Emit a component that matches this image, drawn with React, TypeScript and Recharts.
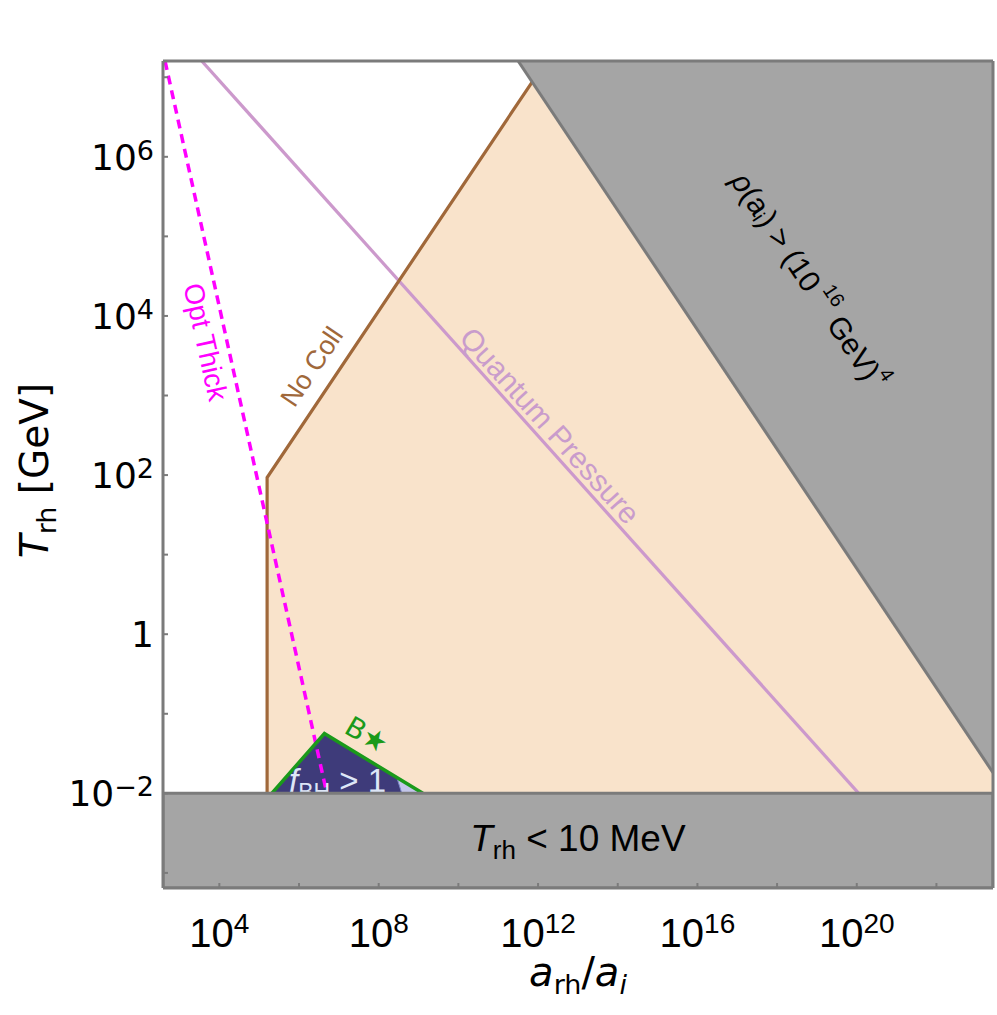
import React from 'react';
import {
	ComposedChart,
	Area,
	Line,
	XAxis,
	YAxis,
	ReferenceArea,
	ReferenceDot,
} from 'recharts';

// axis ranges and ticks (a_rh/a_i and T_rh in GeV)
const X_DOMAIN = [385, 2.63e23];
const Y_DOMAIN = [6.46e-4, 1.6e7];
const X_TICKS = [1e4, 1e6, 1e8, 1e10, 1e12, 1e14, 1e16, 1e18, 1e20, 1e22];
const Y_TICKS = [1e-3, 1e-2, 1e-1, 1, 1e1, 1e2, 1e3, 1e4, 1e5, 1e6, 1e7];
const T_MIN = 1e-2; // T_rh = 10 MeV

// allowed region (No Coll edge + rho(a_i) edge)
const allowedRegion = [
	{ x: 1.58e5, y: [T_MIN, 93] },
	{ x: 7.08e11, y: [T_MIN, 8.7e6] },
	{ x: 2.63e23, y: [T_MIN, 1.82e-2] },
];

// rho(a_i) > (10^16 GeV)^4 excluded wedge
const rhoRegion = [
	{ x: 3.16e11, y: [1.6e7, 1.6e7] },
	{ x: 2.63e23, y: [1.82e-2, 1.6e7] },
];
const rhoEdge = [
	{ x: 3.16e11, y: 1.6e7 },
	{ x: 2.63e23, y: 1.82e-2 },
];

// f_BH > 1 triangle and the B* edge
const fbhRegion = [
	{ x: 2.07e5, y: [T_MIN, T_MIN] },
	{ x: 4.34e6, y: [T_MIN, 5.65e-2] },
	{ x: 1.28e9, y: [T_MIN, T_MIN] },
];
const fbhSliver = [
	{ x: 2.85e8, y: [1.58e-2, 1.58e-2] },
	{ x: 3.8e8, y: [T_MIN, 1.45e-2] },
	{ x: 1.28e9, y: [T_MIN, T_MIN] },
];
const bStarEdge = [
	{ x: 2.07e5, y: T_MIN },
	{ x: 4.34e6, y: 5.65e-2 },
	{ x: 1.28e9, y: T_MIN },
];

const noColl = [
	{ x: 1.58e5, y: T_MIN },
	{ x: 1.58e5, y: 93 },
	{ x: 7.08e11, y: 8.7e6 },
];
const quantumPressure = [
	{ x: 3.61e3, y: 1.6e7 },
	{ x: 1.12e20, y: T_MIN },
];
const optThick = [
	{ x: 433, y: 1.6e7 },
	{ x: 4.98e6, y: T_MIN },
];

const FRAME = '#7b7b7b';
const GRAY = '#a5a5a5';
const TICK_FONT = '"DejaVu Sans", sans-serif';
const TEXT_FONT = '"Liberation Sans", Arial, sans-serif';

const XTick = (props: any) => {
	const { x, y, payload } = props;
	const e = Math.round(Math.log10(payload.value));
	if (e % 4 !== 0) return <g />;
	return (
		<text x={x} y={y + 64} textAnchor="middle" fontFamily={TEXT_FONT} fontSize={40} fill="#000">
			<tspan>10</tspan>
			<tspan dy={-14} fontSize={28}>{e}</tspan>
		</text>
	);
};

const YTick = (props: any) => {
	const { x, y, payload } = props;
	const e = Math.round(Math.log10(payload.value));
	if (e % 2 !== 0) return <g />;
	return (
		<text x={x - 14} y={y + 13} textAnchor="end" fontFamily={TICK_FONT} fontSize={36} fill="#000">
			{e === 0 ? (
				<tspan>1</tspan>
			) : (
				<>
					<tspan>10</tspan>
					<tspan dy={-10} fontSize={27}>{e < 0 ? '\u2212' + -e : String(e)}</tspan>
				</>
			)}
		</text>
	);
};

const XTitle = (props: any) => {
	const { x, y, width } = props.viewBox;
	return (
		<text x={x + width / 2} y={y + 98} textAnchor="middle" fontFamily={TICK_FONT} fontSize={40} fill="#000">
			<tspan fontStyle="italic">a</tspan>
			<tspan fontSize={27} dy={8}>rh</tspan>
			<tspan dy={-8}>/</tspan>
			<tspan fontStyle="italic">a</tspan>
			<tspan fontSize={27} dy={8} fontStyle="italic">i</tspan>
		</text>
	);
};

const YTitle = (props: any) => {
	const { y, height } = props.viewBox;
	const cx = 48;
	const cy = y + height / 2 - 4;
	return (
		<text
			x={cx}
			y={cy}
			transform={`rotate(-90 ${cx} ${cy})`}
			textAnchor="middle"
			fontFamily={TICK_FONT}
			fontSize={39}
			fill="#000"
		>
			<tspan fontStyle="italic">T</tspan>
			<tspan fontSize={27} dy={8}>rh</tspan>
			<tspan dy={-8}> [GeV]</tspan>
		</text>
	);
};

const rotated =
	(content: React.ReactNode, angle: number, color: string, size: number, family = TEXT_FONT) =>
	(p: any) => (
		<text
			x={p.cx}
			y={p.cy}
			transform={`rotate(${angle} ${p.cx} ${p.cy})`}
			textAnchor="middle"
			dominantBaseline="central"
			fill={color}
			fontSize={size}
			fontFamily={family}
		>
			{content}
		</text>
	);

const App = () => {
	return (
		<div style={{ position: 'absolute', left: 0, top: 0, width: 997, height: 1015, background: '#fff' }}>
			<ComposedChart width={997} height={1015} margin={{ top: 60, right: 3, bottom: 0, left: 0 }}>
				<XAxis
					xAxisId={0}
					type="number"
					dataKey="x"
					scale="log"
					domain={X_DOMAIN}
					allowDataOverflow
					ticks={X_TICKS}
					interval={0}
					height={127}
					tickSize={-5}
					tickMargin={0}
					axisLine={{ stroke: FRAME, strokeWidth: 3 }}
					tickLine={{ stroke: FRAME, strokeWidth: 2 }}
					tick={XTick}
					label={{ content: XTitle }}
					zIndex={500}
				/>
				<XAxis
					xAxisId="top"
					orientation="top"
					type="number"
					dataKey="x"
					scale="log"
					domain={X_DOMAIN}
					allowDataOverflow
					ticks={X_TICKS}
					interval={0}
					height={1}
					tickSize={-5}
					axisLine={{ stroke: FRAME, strokeWidth: 3 }}
					tickLine={{ stroke: FRAME, strokeWidth: 2 }}
					tick={false}
					zIndex={500}
				/>
				<YAxis
					yAxisId={0}
					type="number"
					scale="log"
					domain={Y_DOMAIN}
					allowDataOverflow
					ticks={Y_TICKS}
					interval={0}
					width={163}
					tickSize={-5}
					tickMargin={0}
					axisLine={{ stroke: FRAME, strokeWidth: 3 }}
					tickLine={{ stroke: FRAME, strokeWidth: 2 }}
					tick={YTick}
					label={{ content: YTitle }}
					zIndex={500}
				/>
				<YAxis
					yAxisId="right"
					orientation="right"
					type="number"
					scale="log"
					domain={Y_DOMAIN}
					allowDataOverflow
					ticks={Y_TICKS}
					interval={0}
					width={1}
					tickSize={-5}
					axisLine={{ stroke: FRAME, strokeWidth: 3 }}
					tickLine={{ stroke: FRAME, strokeWidth: 2 }}
					tick={false}
					zIndex={500}
				/>

				<Area
					data={allowedRegion}
					dataKey="y"
					type="linear"
					fill="#f9e3cb"
					fillOpacity={1}
					stroke="none"
					isAnimationActive={false}
					zIndex={100}
				/>
				<Area
					data={fbhRegion}
					dataKey="y"
					type="linear"
					fill="#3e3b7a"
					fillOpacity={1}
					stroke="none"
					isAnimationActive={false}
					zIndex={110}
				/>
				<Area
					data={fbhSliver}
					dataKey="y"
					type="linear"
					fill="#c3c6ea"
					fillOpacity={1}
					stroke="#7c8bc9"
					strokeWidth={1}
					isAnimationActive={false}
					zIndex={120}
				/>

				<Line
					data={quantumPressure}
					dataKey="y"
					type="linear"
					stroke="#cc99cc"
					strokeWidth={3.2}
					dot={false}
					activeDot={false}
					isAnimationActive={false}
					zIndex={400}
				/>
				<Line
					data={noColl}
					dataKey="y"
					type="linear"
					stroke="#a0683a"
					strokeWidth={3.2}
					dot={false}
					activeDot={false}
					isAnimationActive={false}
					zIndex={401}
				/>
				<Line
					data={optThick}
					dataKey="y"
					type="linear"
					stroke="#ff00ff"
					strokeWidth={3.5}
					strokeDasharray="9 6"
					dot={false}
					activeDot={false}
					isAnimationActive={false}
					zIndex={402}
				/>
				<Line
					data={bStarEdge}
					dataKey="y"
					type="linear"
					stroke="#1a9a1a"
					strokeWidth={3.5}
					dot={false}
					activeDot={false}
					isAnimationActive={false}
					zIndex={403}
				/>

				<ReferenceDot
					x={9.3e6}
					y={T_MIN}
					r={0}
					zIndex={410}
					shape={(p: any) => (
						<text x={p.cx} y={p.cy - 1} textAnchor="middle" fill="#dde6f7" fontSize={33} fontFamily={TEXT_FONT}>
							<tspan fontStyle="italic">f</tspan>
							<tspan fontSize={23} dy={8}>BH</tspan>
							<tspan dy={-8}> &gt; 1</tspan>
						</text>
					)}
				/>

				<Area
					data={rhoRegion}
					dataKey="y"
					type="linear"
					fill={GRAY}
					fillOpacity={1}
					stroke="none"
					isAnimationActive={false}
					zIndex={450}
				/>
				<Line
					data={rhoEdge}
					dataKey="y"
					type="linear"
					stroke={FRAME}
					strokeWidth={3}
					dot={false}
					activeDot={false}
					isAnimationActive={false}
					zIndex={451}
				/>
				<ReferenceArea
					x1={X_DOMAIN[0]}
					x2={X_DOMAIN[1]}
					y1={Y_DOMAIN[0]}
					y2={T_MIN}
					fill={GRAY}
					fillOpacity={1}
					stroke={FRAME}
					strokeWidth={3}
					ifOverflow="hidden"
					zIndex={460}
				/>

				<ReferenceDot x={4.5e3} y={4.7e3} r={0} zIndex={2000} shape={rotated('Opt Thick', 77.5, '#ff00ff', 28)} />
				<ReferenceDot x={2.1e6} y={2.3e3} r={0} zIndex={2000} shape={rotated('No Coll', -56, '#a0683a', 27)} />
				<ReferenceDot
					x={2.0e12}
					y={420}
					r={0}
					zIndex={2000}
					shape={rotated('Quantum Pressure', 48, '#c99ccc', 30)}
				/>
				<ReferenceDot
					x={6.5e18}
					y={2.8e4}
					r={0}
					zIndex={2000}
					shape={rotated(
						<>
							<tspan fontStyle="italic">{'\u03c1'}</tspan>
							<tspan>(a</tspan>
							<tspan fontSize={20} dy={7}>i</tspan>
							<tspan dy={-7}>) &gt; (10</tspan>
							<tspan fontSize={20} dx={6} dy={-12}>16</tspan>
							<tspan dy={12}> GeV)</tspan>
							<tspan fontSize={20} dy={-12}>4</tspan>
						</>,
						56.2,
						'#000',
						30,
					)}
				/>
				<ReferenceDot
					x={5.0e7}
					y={5.4e-2}
					r={0}
					zIndex={2000}
					shape={rotated('B\u2605', 30, '#1a9a1a', 28, '"DejaVu Sans", sans-serif')}
				/>
				<ReferenceDot
					x={1e13}
					y={2.75e-3}
					r={0}
					zIndex={2000}
					shape={(p: any) => (
						<text x={p.cx} y={p.cy + 13} textAnchor="middle" fill="#000" fontSize={37} fontFamily={TEXT_FONT}>
							<tspan fontStyle="italic">T</tspan>
							<tspan fontSize={26} dy={8}>rh</tspan>
							<tspan dy={-8}>{'  < 10 MeV'}</tspan>
						</text>
					)}
				/>
			</ComposedChart>
		</div>
	);
};

export default App;
